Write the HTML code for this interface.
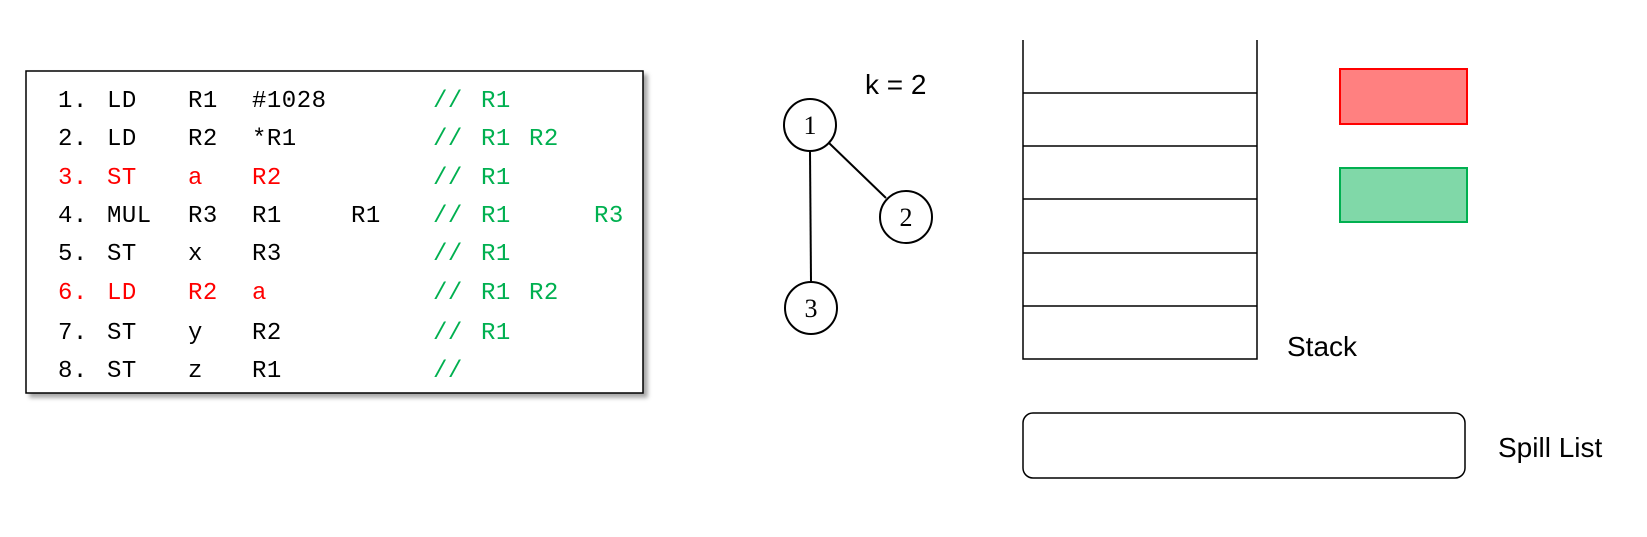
<!DOCTYPE html>
<html><head><meta charset="utf-8"><style>
body{margin:0;background:#fff;}
svg{display:block}
.c{font-family:"Liberation Mono",monospace;font-size:24px;letter-spacing:0.5px}
.k{fill:#000}.r{fill:#ff0000}.g{fill:#00b050}
</style></head><body>
<svg width="1647" height="537" viewBox="0 0 1647 537">
<defs><filter id="sh" x="-5%" y="-5%" width="115%" height="120%"><feDropShadow dx="4" dy="4" stdDeviation="2" flood-color="#000" flood-opacity="0.35"/></filter></defs>
<rect x="26" y="71" width="617" height="322" fill="#fff" stroke="#000" stroke-width="1.5" filter="url(#sh)"/>
<g class="c" id="code"></g>
<g stroke="#000" stroke-width="2" fill="#fff">
<line x1="810" y1="151" x2="811" y2="282"/>
<line x1="829" y1="143" x2="886" y2="198"/>
<circle cx="810" cy="125" r="26"/><circle cx="906" cy="217" r="26"/><circle cx="811" cy="308" r="26"/>
</g>
<g font-family="Liberation Serif,serif" font-size="26" text-anchor="middle">
<text x="810" y="134">1</text>
<text x="906" y="226">2</text>
<text x="811" y="317">3</text>
</g>
<g font-family="Liberation Sans,sans-serif" font-size="28">
<text x="865" y="94">k = 2</text>
<text x="1287" y="356">Stack</text>
<text x="1498" y="457">Spill List</text>
</g>
<g stroke="#000" stroke-width="1.5" fill="none">
<polyline points="1023,40 1023,359 1257,359 1257,40"/>
<line x1="1023" y1="93" x2="1257" y2="93"/><line x1="1023" y1="146" x2="1257" y2="146"/>
<line x1="1023" y1="199" x2="1257" y2="199"/><line x1="1023" y1="253" x2="1257" y2="253"/>
<line x1="1023" y1="306" x2="1257" y2="306"/>
</g>
<rect x="1340" y="69" width="127" height="55" fill="#ff8080" stroke="#ff0000" stroke-width="2"/>
<rect x="1340" y="168" width="127" height="54" fill="#80d8a8" stroke="#00b050" stroke-width="2"/>
<rect x="1023" y="413" width="442" height="65" rx="10" fill="#fff" stroke="#000" stroke-width="1.5"/>
</svg>
<script>
const rows=[
 [["1.","k",58],["LD","k",107],["R1","k",188],["#1028","k",252],["//","g",433],["R1","g",481]],
 [["2.","k",58],["LD","k",107],["R2","k",188],["*R1","k",252],["//","g",433],["R1","g",481],["R2","g",529]],
 [["3.","r",58],["ST","r",107],["a","r",188],["R2","r",252],["//","g",433],["R1","g",481]],
 [["4.","k",58],["MUL","k",107],["R3","k",188],["R1","k",252],["R1","k",351],["//","g",433],["R1","g",481],["R3","g",594]],
 [["5.","k",58],["ST","k",107],["x","k",188],["R3","k",252],["//","g",433],["R1","g",481]],
 [["6.","r",58],["LD","r",107],["R2","r",188],["a","r",252],["//","g",433],["R1","g",481],["R2","g",529]],
 [["7.","k",58],["ST","k",107],["y","k",188],["R2","k",252],["//","g",433],["R1","g",481]],
 [["8.","k",58],["ST","k",107],["z","k",188],["R1","k",252],["//","g",433]]
];
const base=[107,145,184,222,260,299,339,377];
const g=document.getElementById('code');
rows.forEach((r,i)=>r.forEach(t=>{
 const e=document.createElementNS('http://www.w3.org/2000/svg','text');
 e.setAttribute('x',t[2]);e.setAttribute('y',base[i]);e.setAttribute('class',t[1]);
 
 
 e.textContent=t[0];g.appendChild(e);
}));
</script>
</body></html>
